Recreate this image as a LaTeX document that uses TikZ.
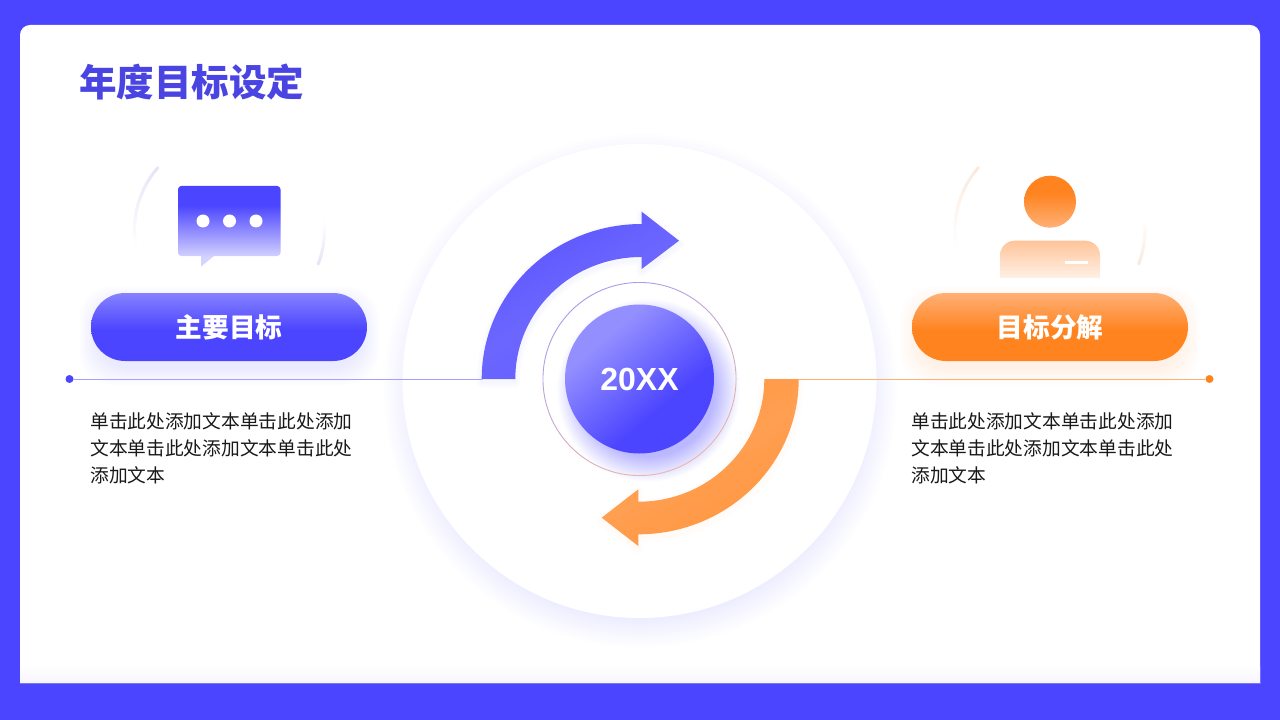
\documentclass[tikz,border=0pt]{standalone}
\usepackage{fontspec}
\newfontfamily\cjk{Noto Sans CJK SC}
\setsansfont{Liberation Sans}
\definecolor{mainblue}{HTML}{4C45FF}
\definecolor{softblue}{HTML}{938FFF}
\definecolor{btnblue}{HTML}{8682FF}
\definecolor{paleblue}{HTML}{D4D2FF}
\definecolor{arcblue}{HTML}{E4E4F8}
\definecolor{mainorange}{HTML}{FF8420}
\definecolor{btnorange}{HTML}{FFB077}
\definecolor{paleorange}{HTML}{FFF1E6}
\definecolor{arcorange}{HTML}{FBE8DC}
\definecolor{ringa}{HTML}{A99BEE}
\definecolor{ringb}{HTML}{ECB6A6}
\definecolor{titleblue}{HTML}{4A44E2}
\definecolor{cardedge}{HTML}{F6F5FF}
\pgfdeclareverticalshading{blueband}{100bp}{color(0bp)=(mainblue);color(48bp)=(mainblue);color(75bp)=(btnblue);color(100bp)=(btnblue)}
\pgfdeclareverticalshading{orangeband}{100bp}{color(0bp)=(mainorange);color(48bp)=(mainorange);color(75bp)=(btnorange);color(100bp)=(btnorange)}
\pgfdeclareverticalshading{bubblefade}{100bp}{color(0bp)=(paleblue);color(31bp)=(paleblue);color(63bp)=(mainblue);color(100bp)=(mainblue)}
\pgfdeclareverticalshading{headfade}{100bp}{color(0bp)=(btnorange);color(25bp)=(btnorange);color(58bp)=(mainorange);color(100bp)=(mainorange)}
\pgfdeclareverticalshading{bodyfade}{100bp}{color(0bp)=(paleorange);color(25bp)=(paleorange);color(75bp)=(btnorange!75!white);color(100bp)=(btnorange!75!white)}
\pgfdeclarehorizontalshading{ballfade}{100bp}{color(0bp)=(softblue);color(32bp)=(softblue);color(62bp)=(mainblue);color(100bp)=(mainblue)}
\pgfdeclareradialshading{bigglow}{\pgfpoint{0bp}{0bp}}{color(0bp)=(mainblue!10!white);color(22.1bp)=(mainblue!10!white);color(25bp)=(white);color(50bp)=(white)}
\pgfdeclareradialshading{ballglow}{\pgfpoint{0bp}{0bp}}{color(0bp)=(mainblue!38!white);color(18bp)=(mainblue!38!white);color(25bp)=(white);color(50bp)=(white)}
\newcommand{\fadearc}[4]{\foreach \a in {0,...,24}{
    \pgfmathsetmacro\m{100-4*\a}
    \draw[#2!\m!white,line width=2.2pt] ({#1+95*cos(#3+(#4-#3)*\a/25)},{230+95*sin(#3+(#4-#3)*\a/25)}) -- ({#1+95*cos(#3+(#4-#3)*(\a+1)/25)},{230+95*sin(#3+(#4-#3)*(\a+1)/25)});}}
\newcommand{\btnglow}[3]{\foreach \r in {18,17,...,1}{
    \pgfmathsetmacro\m{#3*(19-\r)/18}
    \fill[#1!\m!white,rounded corners=25pt] ({#2+6-\r},{304-\r}) rectangle ({#2+270+\r},{367+\r});}}
\def\bluearrow{(481.7,379) .. controls (481.7,293.4) and (552.7,224) .. (641.7,224) -- (641.7,211.7) -- (679,240.7) -- (641.7,269) -- (641.7,257) .. controls (571,257) and (515.3,311.6) .. (515.3,379) -- cycle}
\def\orangearrow{(764.3,379) .. controls (764.3,446.8) and (708,501.7) .. (638.3,501.7) -- (638.3,489.3) -- (601.7,517.7) -- (638.3,546) -- (638.3,534.3) .. controls (727,534.3) and (798.7,464.8) .. (798.7,379) -- cycle}
\begin{document}
\begin{tikzpicture}[x=0.75pt,y=-0.75pt,line join=round,line cap=round,
    btn/.style={shade,rounded corners=25.5pt,minimum width=207pt,minimum height=51pt,inner sep=0pt,text=white,font=\cjk\bfseries\fontsize{20}{24}\selectfont},
    bodytext/.style={anchor=west,align=left,inner sep=0pt,text=black!90,font=\cjk\fontsize{14.05}{20.25}\selectfont},
    enddot/.style={circle,inner sep=0pt,minimum size=6pt}]
    \useasboundingbox (0,0) rectangle (1280,720);
    \fill[mainblue] (0,0) rectangle (1280,720);
    \fill[white,rounded corners=7.5pt] (20,25) -- (1260,25) -- (1260,700) -- (20,700) -- cycle;
    \fill[mainblue] (0,684) rectangle (1280,720);
    \shade[top color=white,bottom color=cardedge] (20,666) rectangle (1260,683);
    \draw[mainblue!70!gray!80!white,line width=.7pt,line cap=butt] (20,683.5) -- (1260,683.5);
    \shade[shading=bigglow] (640,390) circle (258);
    \fill[white] (639.5,381) circle (237);
    \fadearc{229.5}{arcblue}{221}{171}
    \fadearc{229.5}{arcblue}{21}{-5}
    \fadearc{1050}{arcorange}{221}{171}
    \fadearc{1050}{arcorange}{21}{-5}
    \btnglow{mainblue}{91}{11}
    \btnglow{mainorange}{912}{11}
    \node[btn,shading=blueband] (mainbtn) at (229,327) {主要目标};
    \node[btn,shading=orangeband] (splitbtn) at (1050,327) {目标分解};
    \node[anchor=west,inner sep=0pt,text=titleblue,font=\cjk\bfseries\fontsize{28.15}{32}\selectfont] (title) at (79,82) {年度目标设定};
    \shade[shading=bubblefade] (178,186) [rounded corners=2.5pt] rectangle (280.5,256) [sharp corners] (201,256) -- (201,266.5) -- (214,256) -- cycle;
    \foreach \x in {203,229.5,256}
    \fill[white] (\x,221) circle (6.5);
    \shade[shading=headfade] (1050,201.7) circle (26);
    \shade[shading=bodyfade] (1000,278) [rounded corners=11pt] -- (1000,240.7) -- (1100,240.7) [sharp corners] -- (1100,278) -- cycle;
    \draw[white,line width=2.2pt,line cap=butt] (1065,262.7) -- (1087.7,262.7);
    \foreach \w in {10,8,...,2}{
    \pgfmathsetmacro\m{(12-\w)*.5}
    \draw[mainblue!\m!white,line width=\w*.75pt,shift={(0,3)}] \bluearrow;}
    \foreach \w in {10,8,...,2}{
    \pgfmathsetmacro\m{(12-\w)*.35}
    \draw[mainorange!\m!white,line width=\w*.75pt,shift={(0,3)}] \orangearrow;}
    \node[enddot,fill=mainblue] (dotl) at (69.5,379) {};
    \node[enddot,fill=mainorange] (dotr) at (1209.5,379) {};
    \coordinate (linel) at (482,379);
    \coordinate (liner) at (798,379);
    \draw[softblue!85!white,line width=.75pt] (dotl) -- (linel);
    \draw[btnorange,line width=.75pt] (liner) -- (dotr);
    \shade[left color=mainblue!92!white,right color=mainblue!88!white,middle color=mainblue!82!white,shading angle=30] \bluearrow;
    \shade[left color=mainorange!86!white,right color=mainorange!86!white,middle color=mainorange!78!white,shading angle=30] \orangearrow;
    \shade[shading=ballglow] (648,390) circle (92);
    \shade[even odd rule,left color=ringb,right color=ringa,shading angle=-150] (639.5,379) circle (97) (639.5,379) circle (96.1);
    \shade[shading=ballfade,shading angle=-50] (639.5,379) circle (74.5);
    \node[inner sep=0pt,text=white,font=\sffamily\bfseries\fontsize{24}{28}\selectfont] (year) at (639.5,379.5) {20XX};
    \node[bodytext] (textl) at (90,448) {单击此处添加文本单击此处添加\\文本单击此处添加文本单击此处\\添加文本};
    \node[bodytext] (textr) at (911,448) {单击此处添加文本单击此处添加\\文本单击此处添加文本单击此处\\添加文本};
\end{tikzpicture}
\end{document}
